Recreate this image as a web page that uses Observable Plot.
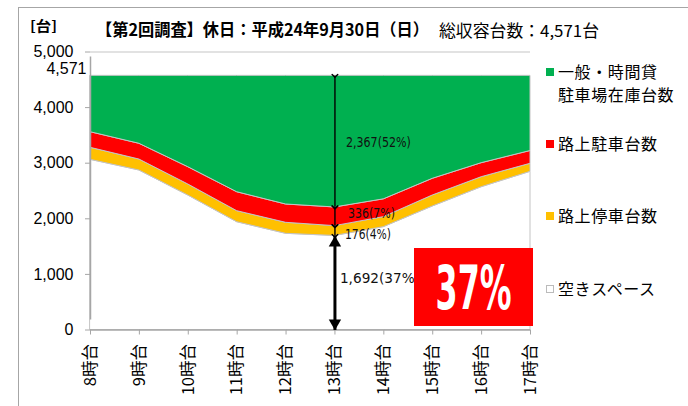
<!DOCTYPE html>
<html><head><meta charset="utf-8">
<script src="https://cdn.jsdelivr.net/npm/d3@7"></script>
<script src="https://cdn.jsdelivr.net/npm/@observablehq/plot@0.6"></script>
<style>
body{margin:0;background:#fff;}
#wrap{position:relative;width:688px;height:406px;overflow:hidden;font-family:"Noto Sans CJK JP",sans-serif;color:#000;}
#wrap svg{position:absolute;left:0;top:0;}
.abs{position:absolute;white-space:nowrap;line-height:1;}
.fit{display:inline-block;transform-origin:0 50%;}
.sq{position:absolute;width:8px;height:8px;box-sizing:border-box;}
</style></head><body><div id="wrap"></div>
<script>
// ---- data ----
const hours = [8, 9, 10, 11, 12, 13, 14, 15, 16, 17];
const capacity = 4571;
const emptySpace   = [3061, 2869, 2419, 1939, 1730, 1692, 1850, 2221, 2568, 2845];
const onStreetStop = [216, 197, 198, 198, 198, 176, 180, 198, 180, 144];
const onStreetPark = [281, 283, 311, 341, 329, 336, 320, 300, 252, 230];
const lotParked    = [1013, 1222, 1643, 2093, 2314, 2367, 2221, 1852, 1571, 1352];
const seriesNames = ["空きスペース", "路上停車台数", "路上駐車台数", "一般・時間貸駐車場在庫台数"];
const seriesColors = ["#ffffff", "#FFC000", "#FF0000", "#00B050"];
const yTicks = [0, 1000, 2000, 3000, 4000, 5000];
const focusHour = 13;
const badgeText = "37%";

const seriesValues = [emptySpace, onStreetStop, onStreetPark, lotParked];
const rows = hours.flatMap((h, i) => seriesNames.map((s, j) => ({hour: h, series: s, value: seriesValues[j][i]})));

// annotation at focus hour
const fi = hours.indexOf(focusHour);
const vals = seriesValues.map(a => a[fi]);
const cum = [0];
vals.forEach(v => cum.push(cum[cum.length - 1] + v));
const fmt = d3.format(",");
const lab = v => `${fmt(v)}(${Math.round(v / capacity * 100)}%)`;
const thinSegs = [
  {y1: cum[4], y2: cum[3], v: vals[3], dx: 11, dy: 1, w: 65},
  {y1: cum[3], y2: cum[2], v: vals[2], dx: 13, dy: -3, w: 47},
  {y1: cum[2], y2: cum[1], v: vals[1], dx: 10, dy: 3.5, w: 46}
];
const thick = {y1: cum[1], y2: 0, v: vals[0], dx: 5, dy: -4.5, w: 80};

const narrow = "'Liberation Sans Narrow','DejaVu Sans Condensed',sans-serif";

const chart = Plot.plot({
  width: 688, height: 406,
  marginLeft: 90, marginRight: 158, marginTop: 51.5, marginBottom: 76.5,
  x: {domain: [hours[0], hours[hours.length - 1]]},
  y: {domain: [0, 5000]},
  color: {domain: seriesNames, range: seriesColors},
  style: {fontFamily: "'Liberation Sans',sans-serif", fontSize: "16px", color: "#000", background: "transparent", overflow: "visible"},
  marks: [
    Plot.ruleY(yTicks.filter(d => d > 0), {stroke: "#d9d9d9", strokeWidth: 1.5}),
    Plot.areaY(rows, {x: "hour", y: "value", fill: "series", order: seriesNames, stroke: "#c4c4c4", strokeWidth: 1}),
    Plot.ruleX([hours[0]], {y1: 0, y2: 5000, insetTop: -10, insetBottom: -5, stroke: "#a6a6a6", strokeWidth: 1.5}),
    Plot.ruleY([0], {stroke: "#a6a6a6", strokeWidth: 1.5}),
    Plot.axisY({ticks: yTicks, tickFormat: fmt, tickSize: 5, tickPadding: 12, stroke: "#a6a6a6", fill: "#000", fontSize: 16, label: null}),
    Plot.axisX({ticks: hours, tickFormat: d => d + "時台", tickRotate: -90, tickSize: 5, tickPadding: 9, stroke: "#a6a6a6", fill: "#000", fontSize: 16.5, fontFamily: "'Noto Sans CJK JP',sans-serif", label: null}),
    Plot.text([capacity], {x: hours[0], y: d => d, text: d => fmt(d), textAnchor: "end", dx: -4, dy: -7, fontSize: 16}),
    Plot.link(thinSegs, {x1: focusHour, x2: focusHour, y1: "y1", y2: "y2", stroke: "#000", strokeWidth: 1.4, markerStart: "arrow", markerEnd: "arrow"}),
    ...thinSegs.map(s => Plot.text([s], {x: focusHour, y: d => (d.y1 + d.y2) / 2, text: d => lab(d.v), textAnchor: "start", dx: s.dx, dy: s.dy, fontSize: 14, fontFamily: narrow, fill: "#111", className: "seglabel"})),
    Plot.link([thick], {x1: focusHour, x2: focusHour, y1: "y1", y2: "y2", stroke: "#000", strokeWidth: 3, insetTop: 6}),
    Plot.dot([thick.y1], {x: focusHour, y: d => d, symbol: "triangle", r: 4.6, fill: "#000", dy: 7}),
    Plot.dot([thick.y2], {x: focusHour, y: d => d, symbol: "triangle", r: 4.6, fill: "#000", rotate: 180, dy: -7}),
    Plot.text([thick], {x: focusHour, y: d => (d.y1 + d.y2) / 2, text: d => lab(d.v), textAnchor: "start", dx: thick.dx, dy: thick.dy, fontSize: 14.5, fontFamily: narrow, fill: "#111", className: "seglabel"})
  ]
});

const wrap = document.getElementById("wrap");
wrap.appendChild(chart);

// condense annotation labels to the widths seen in the reference
const widths = new Map([...thinSegs, thick].map(s => [lab(s.v), s.w]));
d3.select(chart).selectAll(".seglabel text").each(function() {
  const w = widths.get(this.textContent);
  if (w) { this.setAttribute("textLength", w); this.setAttribute("lengthAdjust", "spacingAndGlyphs"); }
});

// frame
const frame = document.createElement("div");
frame.style.cssText = "position:absolute;left:18px;top:7px;width:800px;height:600px;border-left:1.5px solid #a6a6a6;border-top:1.5px solid #a6a6a6;";
wrap.appendChild(frame);

function addText(txt, left, cy, size, weight, targetW, family) {
  const d = document.createElement("div");
  d.className = "abs";
  d.style.left = left + "px";
  d.style.top = (cy - size * 0.6) + "px";
  d.style.fontSize = size + "px";
  d.style.fontWeight = weight;
  d.style.height = (size * 1.2) + "px";
  d.style.lineHeight = (size * 1.2) + "px";
  if (family) d.style.fontFamily = family;
  const s = document.createElement("span");
  s.className = "fit";
  s.textContent = txt;
  d.appendChild(s);
  wrap.appendChild(d);
  if (targetW) {
    const w = s.getBoundingClientRect().width;
    s.style.transform = `scaleX(${targetW / w})`;
  }
  return d;
}

// titles
addText("[台]", 30, 25, 14, 700, 27);
addText("【第2回調査】休日：平成24年9月30日（日）", 96, 30, 16.5, 700, 333);
addText("総収容台数：4,571台", 439, 31, 16.5, 400, 160);

// legend
const legend = [
  {lines: ["一般・時間貸", "駐車場在庫台数"], cy: 72},
  {lines: ["路上駐車台数"], cy: 144},
  {lines: ["路上停車台数"], cy: 215.5},
  {lines: ["空きスペース"], cy: 289}
];
legend.forEach((item, i) => {
  const sq = document.createElement("div");
  sq.className = "sq";
  sq.style.left = "546px";
  sq.style.top = (item.cy - 4) + "px";
  sq.style.background = seriesColors[seriesNames.length - 1 - i];
  if (i === 3) sq.style.border = "1px solid #bbb";
  wrap.appendChild(sq);
  item.lines.forEach((ln, k) => {
    addText(ln, 558, item.cy + k * 22.5, 16, 400, null).style.letterSpacing = "0.6px";
  });
});

// badge
const badge = document.createElement("div");
badge.style.cssText = "position:absolute;left:414px;top:248px;width:119px;height:78px;background:#FF0000;display:flex;align-items:center;justify-content:center;";
const bt = document.createElement("span");
bt.textContent = badgeText;
bt.style.cssText = "display:inline-block;color:#fff;font-weight:700;font-size:60px;line-height:1;font-family:" + narrow + ";transform-origin:50% 50%;";
badge.appendChild(bt);
wrap.appendChild(badge);
const bw = bt.getBoundingClientRect().width;
bt.style.transform = `translateY(1px) scaleX(${76 / bw})`;
</script></body></html>
